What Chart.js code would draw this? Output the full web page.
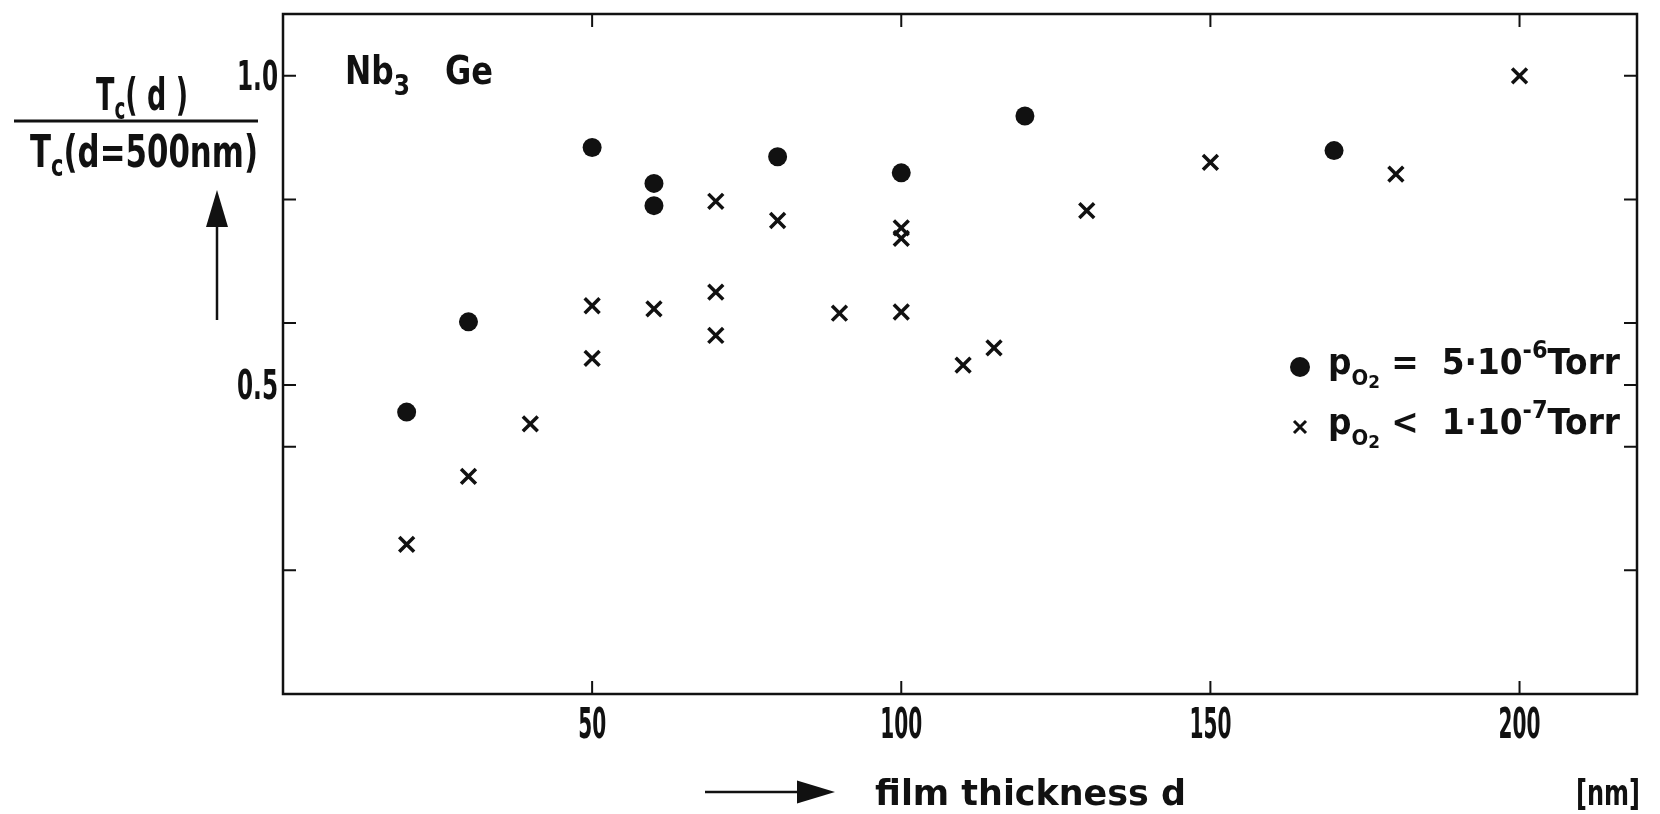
<!DOCTYPE html>
<html lang="en">

<head>
    <meta charset="UTF-8">
    <title>Nb3Ge - Tc(d) / Tc(d=500nm)</title>
    <style>
        html, body { margin: 0; padding: 0; background: #fff; }
    </style>
</head>

<body>
    <canvas id="grafico1" width="1660" height="814"></canvas>

    <script src="https://cdn.jsdelivr.net/npm/chart.js"></script>
    <script>
        // p_O2 = 5e-6 Torr (filled circles)
        const espessuraCirculo = [20, 30, 50, 60, 60, 80, 100, 120, 170]
        const razaoCirculo = [0.456, 0.602, 0.884, 0.826, 0.790, 0.869, 0.843, 0.935, 0.879]

        // p_O2 < 1e-7 Torr (crosses)
        const espessuraCruz = [20, 30, 40, 50, 50, 60, 70, 70, 70, 80, 90, 100, 100, 100, 110, 115, 130, 150, 180, 200]
        const razaoCruz = [0.242, 0.352, 0.437, 0.628, 0.543, 0.623, 0.797, 0.650, 0.580, 0.766, 0.616, 0.754, 0.737, 0.618, 0.532, 0.560, 0.782, 0.860, 0.841, 1.0]

        const ticksX = [50, 100, 150, 200]
        const rotulosX = ['50', '100', '150', '200']
        const ticksY = [0.2, 0.4, 0.5, 0.6, 0.8, 1.0]
        const rotulosY = [[0.5, '0.5'], [1.0, '1.0']]

        const fonte = '"DejaVu Sans Condensed", "DejaVu Sans", sans-serif'
        const preto = '#111'

        const pontos = (xs, ys) => xs.map((x, i) => ({ x: x, y: ys[i] }))

        // writes text pieces [texto, tamanho, deslocamento vertical] squeezed to a width
        const escreve = (ctx, partes, x, y, largura) => {
            let total = 0
            partes.forEach(p => {
                ctx.font = 'bold ' + p[1] + 'px ' + fonte
                total += ctx.measureText(p[0]).width
            })
            const sx = largura ? largura / total : 1
            ctx.save()
            ctx.translate(x, y)
            ctx.scale(sx, 1)
            ctx.textBaseline = 'alphabetic'
            ctx.textAlign = 'left'
            let pos = 0
            partes.forEach(p => {
                ctx.font = 'bold ' + p[1] + 'px ' + fonte
                ctx.fillText(p[0], pos, p[2] || 0)
                pos += ctx.measureText(p[0]).width
            })
            ctx.restore()
        }

        const seta = (ctx, x1, y1, x2, y2, tam, meia) => {
            const ang = Math.atan2(y2 - y1, x2 - x1)
            const bx = x2 - Math.cos(ang) * tam
            const by = y2 - Math.sin(ang) * tam
            ctx.beginPath()
            ctx.moveTo(x1, y1)
            ctx.lineTo(bx, by)
            ctx.stroke()
            ctx.beginPath()
            ctx.moveTo(x2, y2)
            ctx.lineTo(bx - Math.sin(ang) * meia, by + Math.cos(ang) * meia)
            ctx.lineTo(bx + Math.sin(ang) * meia, by - Math.cos(ang) * meia)
            ctx.closePath()
            ctx.fill()
        }

        const decoracao = {
            id: 'decoracao',
            afterDraw(chart) {
                const ctx = chart.ctx
                const area = chart.chartArea
                const sx = chart.scales.x
                const sy = chart.scales.y
                ctx.save()
                ctx.strokeStyle = preto
                ctx.fillStyle = preto
                ctx.lineCap = 'butt'

                // frame
                ctx.lineWidth = 2.5
                ctx.strokeRect(area.left, area.top, area.right - area.left, area.bottom - area.top)

                // inward ticks
                ctx.lineWidth = 2
                ctx.beginPath()
                ticksX.forEach(v => {
                    const px = sx.getPixelForValue(v)
                    ctx.moveTo(px, area.bottom); ctx.lineTo(px, area.bottom - 13)
                    ctx.moveTo(px, area.top); ctx.lineTo(px, area.top + 13)
                })
                ticksY.forEach(v => {
                    const py = sy.getPixelForValue(v)
                    ctx.moveTo(area.left, py); ctx.lineTo(area.left + 13, py)
                    ctx.moveTo(area.right, py); ctx.lineTo(area.right - 13, py)
                })
                ctx.stroke()

                // tick labels
                ticksX.forEach((v, i) => {
                    const px = sx.getPixelForValue(v)
                    const w = rotulosX[i].length * 14
                    escreve(ctx, [[rotulosX[i], 42]], px - w / 2, 738, w)
                })
                rotulosY.forEach(r => {
                    const py = sy.getPixelForValue(r[0])
                    escreve(ctx, [[r[1], 40]], area.left - 46, py + 14, 41)
                })

                // y title as a fraction
                escreve(ctx, [['T', 44], ['c', 30, 9], ['( d )', 44]], 96, 110, 92)
                ctx.lineWidth = 3
                ctx.beginPath()
                ctx.moveTo(14, 121); ctx.lineTo(258, 121)
                ctx.stroke()
                escreve(ctx, [['T', 44], ['c', 30, 9], ['(d=500nm)', 44]], 30, 167, 228)

                // arrows
                ctx.lineWidth = 2.5
                seta(ctx, 217, 320, 217, 190, 37, 11)
                seta(ctx, 705, 792, 835, 792, 38, 11.5)

                // x title and unit
                escreve(ctx, [['film thickness d', 35]], 875, 805, 311)
                escreve(ctx, [['[nm]', 35]], 1576, 805, 64)

                // substance
                escreve(ctx, [['Nb', 39], ['3', 29, 11]], 345, 84, 65)
                escreve(ctx, [['Ge', 39]], 445, 84, 48)

                // legend
                ctx.beginPath()
                ctx.arc(1300, 367, 10, 0, Math.PI * 2)
                ctx.fill()
                escreve(ctx, [['p', 35], ['O', 21, 11], ['2', 18, 14], [' =  5·10', 35], ['-6', 24, -16], ['Torr', 35]], 1328, 374, 292)

                ctx.lineWidth = 3
                ctx.beginPath()
                ctx.moveTo(1294, 421); ctx.lineTo(1306, 433)
                ctx.moveTo(1306, 421); ctx.lineTo(1294, 433)
                ctx.stroke()
                escreve(ctx, [['p', 35], ['O', 21, 11], ['2', 18, 14], [' <  1·10', 35], ['-7', 24, -16], ['Torr', 35]], 1328, 434, 292)

                ctx.restore()
            }
        }

        const ctx = document.getElementById('grafico1')

        let grafico1 = new Chart(ctx, {
            type: 'scatter',
            data: {
                datasets: [{
                    label: 'p_O2 = 5·10^-6 Torr',
                    data: pontos(espessuraCirculo, razaoCirculo),
                    pointStyle: 'circle',
                    pointRadius: 9.5,
                    backgroundColor: preto,
                    borderColor: preto,
                    borderWidth: 0
                }, {
                    label: 'p_O2 < 1·10^-7 Torr',
                    data: pontos(espessuraCruz, razaoCruz),
                    pointStyle: 'crossRot',
                    pointRadius: 10.5,
                    backgroundColor: preto,
                    borderColor: preto,
                    borderWidth: 3.5
                }]
            },
            options: {
                responsive: false,
                animation: false,
                devicePixelRatio: 1,
                clip: false,
                layout: {
                    padding: { left: 283, right: 23, top: 8, bottom: 120 }
                },
                plugins: {
                    legend: { display: false },
                    tooltip: { enabled: false }
                },
                scales: {
                    x: { type: 'linear', min: 0, max: 219, display: false },
                    y: { type: 'linear', min: 0, max: 1.1, display: false }
                }
            },
            plugins: [decoracao]
        });
    </script>
</body>

</html>
